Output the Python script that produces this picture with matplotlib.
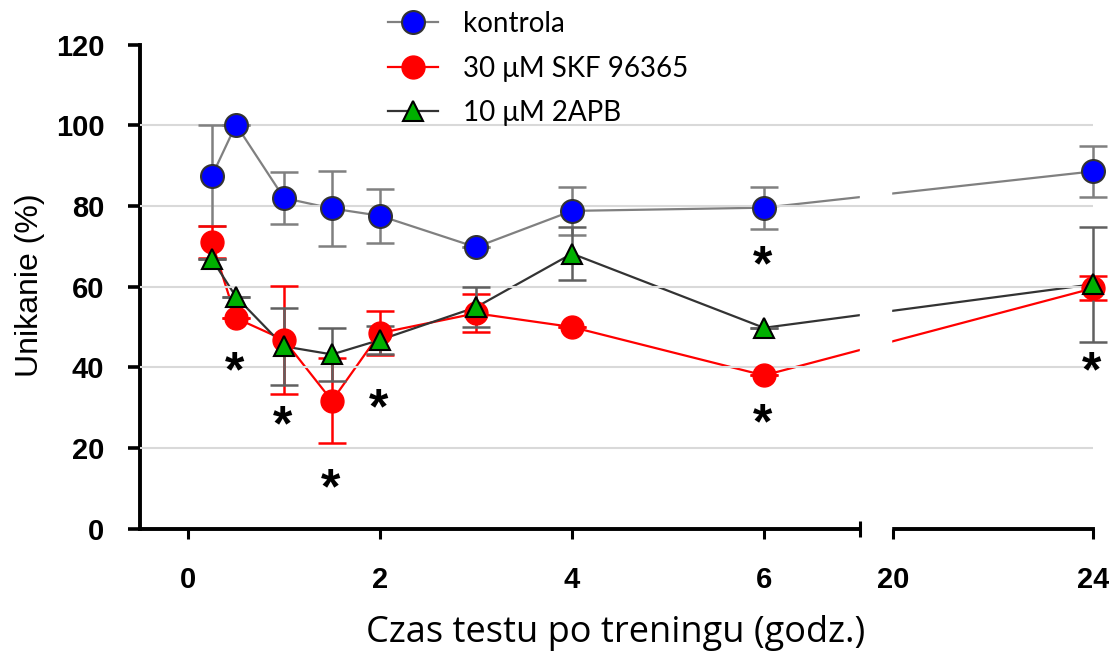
import numpy as np
import matplotlib
matplotlib.use("Agg")
import matplotlib.pyplot as plt
from matplotlib.lines import Line2D

# ── dane ──
hours = [0.25, 0.5, 1, 1.5, 2, 3, 4, 6, 24]

kontrola = [87.5, 100.2, 82.0, 79.4, 77.6, 69.8, 78.8, 79.6, 88.6]
kontrola_err = [12.5, 0, 6.4, 9.4, 6.7, 0, 5.9, 5.2, 6.4]

skf = [71.0, 52.2, 46.8, 31.7, 48.5, 53.4, 50.0, 38.0, 59.6]
skf_err = [4.0, 0, 13.3, 10.5, 5.5, 4.7, 0, 0, 3.0]

apb = [66.8, 57.5, 45.2, 43.2, 46.8, 54.9, 68.2, 49.8, 60.6]
apb_err = [0, 0, 9.5, 6.5, 3.5, 5.0, 6.5, 0, 14.3]

labels = ["kontrola", "30 \u03bcM SKF 96365", "10 \u03bcM 2APB"]

# gwiazdki istotności (x w godz., y w %)
star_x = [0.5, 1, 1.5, 2, 6, 6, 24]
star_y = [41.0, 27.8, 12.1, 31.9, 67.3, 28.2, 41.0]

yticks = [0, 20, 40, 60, 80, 100, 120]
xticks = [0, 2, 4, 6, 20, 24]
grid_y = [20, 40, 60, 80, 100]

# ── przerwana oś X (0-7 h, potem 20-24 h) ──
BREAK = 7.0
GAP = 0.344
R = 0.521


def fwd(x):
    x = np.asarray(x, dtype=float)
    return np.where(x <= BREAK, x,
                    np.where(x < 20, BREAK + (x - BREAK) * GAP / (20 - BREAK),
                             BREAK + GAP + (x - 20) * R))


def inv(y):
    y = np.asarray(y, dtype=float)
    return np.where(y <= BREAK, y,
                    np.where(y < BREAK + GAP, BREAK + (y - BREAK) * (20 - BREAK) / GAP,
                             20 + (y - BREAK - GAP) / R))


fig = plt.figure(figsize=(11.09, 6.52), dpi=100)
ax = fig.add_axes([140 / 1109, 1 - 528.6 / 652, 953 / 1109, (528.6 - 44.8) / 652])
ax.set_xscale("function", functions=(fwd, inv))
ax.set_xlim(-0.5, 24)
ax.set_ylim(0, 120)

blue, red, green = "#0000ff", "#ff0000", "#00b000"

# linie (pod białym pasem przerwy)
ax.plot(hours, kontrola, color="#808080", lw=1.6, zorder=1.5, clip_on=False)
ax.plot(hours, skf, color=red, lw=1.6, zorder=1.4, clip_on=False)
ax.plot(hours, apb, color="#333333", lw=1.6, zorder=1.6, clip_on=False)

# biały pas w miejscu przerwy osi
ax.axvspan(7.03, 19.3, ymin=-0.03, ymax=1, color="white", zorder=2.55, clip_on=False)

# siatka nad pasem, żeby była ciągła
for gy in grid_y:
    ax.axhline(gy, color="#d9d9d9", lw=1.5, zorder=2.6)

# słupki błędów
ax.errorbar(hours, kontrola, yerr=kontrola_err, fmt="none", ecolor="#808080",
            elinewidth=1.8, capsize=10, capthick=1.8, zorder=2.7, clip_on=False)
ax.errorbar(hours, skf, yerr=skf_err, fmt="none", ecolor=red,
            elinewidth=1.8, capsize=10, capthick=1.8, zorder=2.75, clip_on=False)
ax.errorbar(hours, apb, yerr=apb_err, fmt="none", ecolor="#606060",
            elinewidth=1.8, capsize=10, capthick=1.8, zorder=2.8, clip_on=False)

# markery
ax.plot(hours, kontrola, ls="none", marker="o", ms=16.5, mfc=blue, mec="#333333",
        mew=1.5, zorder=3.0, clip_on=False)
ax.plot(hours, skf, ls="none", marker="o", ms=16.5, mfc=red, mec=red,
        mew=1.0, zorder=3.1, clip_on=False)
ax.plot(hours, apb, ls="none", marker="^", ms=15, mfc=green, mec="black",
        mew=1.5, zorder=3.2, clip_on=False)

# gwiazdki
star_fs = 36
for sx, sy in zip(star_x, star_y):
    ax.annotate("*", xy=(sx, sy), xytext=(-1, -0.47 * star_fs), textcoords="offset points",
                ha="center", va="baseline", fontsize=star_fs, fontweight="bold",
                family="Liberation Sans", color="black", zorder=4, annotation_clip=False)

# osie
for s in ["top", "right"]:
    ax.spines[s].set_visible(False)
for s in ["left", "bottom"]:
    ax.spines[s].set_linewidth(2.8)
ax.xaxis.set_zorder(2.7)

ax.set_yticks(yticks)
ax.set_xticks(xticks)
ax.set_xticklabels([str(t) for t in xticks])
ax.set_xticks([BREAK, 20, 24], minor=True)
ax.tick_params(axis="y", direction="out", length=8.6, width=2.6, pad=17)
ax.tick_params(axis="x", which="major", direction="out", length=7.2, width=2.2, pad=20)
ax.tick_params(axis="x", which="minor", direction="inout", length=12, width=2.2)
for lab in ax.get_xticklabels() + ax.get_yticklabels():
    lab.set_fontfamily("Liberation Sans")
    lab.set_fontweight("bold")
    lab.set_fontsize(21)

fig.text(30 / 1109, 1 - 285 / 652, "Unikanie (%)", rotation=90, ha="center", va="center",
         fontsize=23, family="Liberation Sans")
fig.text(616 / 1109, 1 - 633 / 652, "Czas testu po treningu (godz.)", ha="center", va="center",
         fontsize=26, family=["Open Sans", "DejaVu Sans"])

# legenda
handles = [
    Line2D([], [], color="#808080", lw=1.6, marker="o", ms=16.5, mfc=blue, mec="#333333", mew=1.5),
    Line2D([], [], color=red, lw=1.6, marker="o", ms=16.5, mfc=red, mec=red),
    Line2D([], [], color="#333333", lw=1.6, marker="^", ms=15, mfc=green, mec="black", mew=1.5),
]
fig.legend(handles, labels, loc="upper left", bbox_to_anchor=(388 / 1109, 1 - 11 / 652),
           frameon=False, prop={"family": ["Lato", "DejaVu Sans"], "size": 20},
           handlelength=1.8, handletextpad=0.9, labelspacing=0.67, borderpad=0, borderaxespad=0)

fig.savefig("out.png", dpi=100)
